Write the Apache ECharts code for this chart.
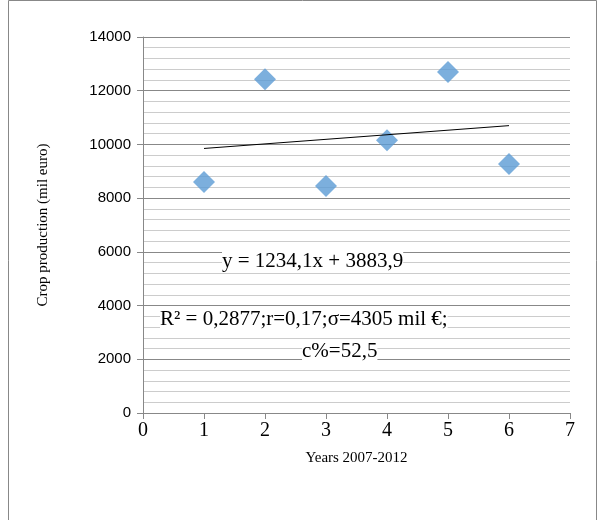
<!DOCTYPE html>
<html><head><meta charset="utf-8">
<script src="https://cdn.jsdelivr.net/npm/echarts@6/dist/echarts.min.js"></script>
<style>html,body{margin:0;padding:0;background:#fff}#main{width:598px;height:520px}</style>
</head><body><div id="main"></div>
<script>
var years = [1, 2, 3, 4, 5, 6];
var crop = [8600, 12430, 8450, 10160, 12700, 9270];
var trend = [[1, 9850], [6, 10700]];

var myChart = echarts.init(document.getElementById('main'));
myChart.setOption({
    animation: false,
    grid: {left: 143, right: 28, top: 37, bottom: 107},
    graphic: [
        {type: 'rect', shape: {x: 8.5, y: 0.5, width: 588, height: 540}, style: {fill: 'none', stroke: '#888', lineWidth: 1}},
        {type: 'text', z: 100, left: 222, top: 251, style: {text: 'y = 1234,1x + 3883,9', font: '21px "Liberation Serif"', fill: '#000', backgroundColor: '#fff'}},
        {type: 'text', z: 100, left: 160, top: 309, style: {text: 'R² = 0,2877;r=0,17;σ=4305 mil €;', font: '21px "Liberation Serif"', fill: '#000', backgroundColor: '#fff'}},
        {type: 'text', z: 100, left: 302, top: 341, style: {text: 'c%=52,5', font: '21px "Liberation Serif"', fill: '#000', backgroundColor: '#fff'}}
    ],
    xAxis: {
        type: 'value', min: 0, max: 7, interval: 1,
        name: 'Years 2007-2012', nameLocation: 'middle', nameGap: 38,
        nameTextStyle: {fontFamily: 'Liberation Serif', fontSize: 15, color: '#000'},
        axisLine: {lineStyle: {color: '#888'}},
        axisTick: {show: true, length: 6, lineStyle: {color: '#888'}},
        axisLabel: {fontFamily: 'Liberation Serif', fontSize: 20, color: '#000', margin: 8},
        splitLine: {show: false}
    },
    yAxis: {
        type: 'value', min: 0, max: 14000, interval: 2000,
        name: 'Crop production (mil euro)', nameLocation: 'middle', nameGap: 92,
        nameTextStyle: {fontFamily: 'Liberation Serif', fontSize: 15, color: '#000'},
        axisLine: {show: true, lineStyle: {color: '#888'}},
        axisTick: {show: true, length: 6, lineStyle: {color: '#888'}},
        axisLabel: {fontFamily: 'Liberation Sans', fontSize: 15, color: '#000', margin: 12,
                    formatter: function (v) { return String(v); }},
        splitLine: {show: true, lineStyle: {color: '#888'}},
        minorTick: {show: false, splitNumber: 5},
        minorSplitLine: {show: true, lineStyle: {color: '#ccc'}}
    },
    series: [
        {type: 'scatter', symbol: 'diamond', symbolSize: 22,
         itemStyle: {color: '#5b9bd5'},
         data: years.map(function (x, i) { return [x, crop[i]]; })},
        {type: 'line', data: trend, symbol: 'none',
         lineStyle: {color: '#000', width: 1}}
    ]
});
</script></body></html>
